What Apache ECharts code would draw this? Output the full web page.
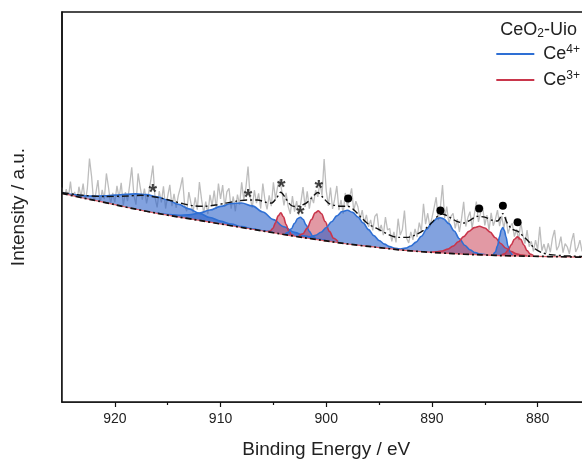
<!DOCTYPE html>
<html><head><meta charset="utf-8">
<script src="https://cdn.jsdelivr.net/npm/echarts@6/dist/echarts.min.js"></script>
<style>html,body{margin:0;padding:0;background:#fff}#c{width:582px;height:461px}</style>
</head><body><div id="c"></div>
<script>
// ---- data (binding energy in eV, intensity in arbitrary units) ----
const xTickLabels = [880, 890, 900, 910, 920];
const xMinorTicks = [885, 895, 905, 915];

// raw spectrum, 0.2 eV steps starting at 925.0 eV going down
const rawStart = 925.0, rawStep = 0.2;
const rawCounts = [
 55.0,51.8,54.6,52.2,56.5, 51.5,53.9,50.9,55.2,52.6, 56.0,51.2,54.8,62.4,57.8,
 51.0,53.5,56.9,50.6,54.4, 52.0,58.6,55.0,50.8,53.6, 51.2,55.4,52.3,56.2,50.4,
 53.8,51.5,55.6,60.2,53.0, 50.6,58.6,55.1,51.9,54.7, 50.9,53.6,56.8,60.6,52.4,
 49.9,54.1,51.2,55.3,49.6, 52.8,55.7,50.2,53.4,49.8, 52.9,55.0,57.6,50.5,48.9,
 53.8,51.0,48.6,52.5,49.3, 56.4,52.0,48.5,51.4,48.2, 53.1,50.3,54.2,49.5,56.0,
 52.1,55.6,50.0,53.9,54.8, 49.6,52.7,48.9,53.2,50.6, 56.3,51.9,55.0,60.4,52.6,
 49.8,54.3,51.0,53.5,49.6, 56.0,51.8,49.4,53.0,50.2, 56.3,52.0,55.2,57.0,54.0,
 50.4,53.6,50.1,48.2,52.8, 48.8,51.5,47.9,51.2,55.1, 50.0,54.0,49.6,52.7,51.0,
 54.3,52.6,56.2,53.0,62.3, 54.2,50.3,55.0,49.5,52.0, 55.4,49.2,51.8,48.3,53.6,
 50.2,52.4,54.8,49.0,51.5, 50.0,46.8,49.2,45.9,48.0, 44.9,46.7,44.0,47.6,48.3,
 43.8,45.4,42.8,47.4,44.1, 44.5,41.2,43.6,40.9,47.0, 42.8,44.2,49.1,42.0,40.8,
 43.6,41.6,44.4,42.3,46.0, 43.8,50.8,45.6,48.4,45.0, 47.2,49.8,52.5,46.6,50.0,
 55.6,47.2,50.1,45.8,47.6, 48.4,44.5,46.9,43.6,47.0, 51.3,45.0,47.3,48.8,44.6,
 47.9,51.4,46.2,48.5,50.1, 45.3,47.9,44.0,48.5,45.2, 46.8,49.2,45.1,47.7,44.6,
 47.5,43.2,45.0,45.8,42.4, 44.3,41.5,46.2,42.8,40.6, 44.1,39.8,41.2,38.6,41.5,
 39.0,44.9,38.8,40.5,38.2, 40.7,38.4,42.0,44.1,38.9, 40.0,42.4,38.3,40.6,39.8,
 38.0,41.2,43.3,38.5,39.6, 41.5,38.6
];

// Shirley-type background
const baselineE = [925,923,921,919,917,915,913,911,909,907,905,903,901,899,897,895,893,891,889,887,885,883,881,879,877,875];
const baselineI = [53.5,52.3,51.2,50.0,48.9,47.9,47.0,46.1,45.2,44.3,43.4,42.5,41.7,40.9,40.2,39.6,39.0,38.55,38.2,37.9,37.7,37.5,37.4,37.3,37.2,37.1];

// fitted envelope
const envelope = [
 [925.0,53.7],[923.0,53.0],[921.0,52.7],[919.0,52.8],[917.5,53.0],[916.5,52.7],[915.5,52.2],[914.5,51.5],
 [913.5,50.8],[912.5,50.3],[911.5,50.2],[910.5,50.5],[909.5,51.0],[908.5,51.5],[907.5,51.8],[906.5,51.8],
 [905.7,51.2],[905.2,51.0],[904.7,52.3],[904.3,53.8],[903.9,52.5],[903.4,50.6],[902.9,50.1],[902.4,50.4],
 [901.9,51.0],[901.4,52.3],[900.8,53.7],[900.3,52.4],[899.8,51.0],[899.2,50.4],[898.6,50.2],[898.0,50.2],
 [897.4,49.3],[896.8,47.6],[896.0,45.6],[895.0,44.2],[894.0,42.8],[893.2,42.2],[892.4,42.2],[891.6,42.8],
 [890.8,44.0],[890.0,46.0],[889.4,47.8],[889.0,48.2],[888.4,47.5],[887.7,46.4],[887.0,45.9],[886.4,46.6],
 [885.7,47.6],[885.0,47.4],[884.3,46.6],[883.8,46.4],[883.3,48.3],[882.9,46.0],[882.4,44.3],[881.9,43.8],
 [881.4,42.6],[880.9,41.3],[880.3,39.4],[879.6,38.3],[878.8,37.8],[877.5,37.5],[875.5,37.3]
];

// Ce4+ components (top of each fitted peak)
const ce4_917 = [[925,53.64],[924,53.2],[923,52.88],[922,52.79],[921,52.87],[920,53.05],[919,53.25],[918,53.36],[917,53.17],[916,52.64],[915,51.78],[914,50.71],[913,49.53],[912,48.36],[911,47.3],[910,46.38],[909,45.61],[908,44.96],[907,44.4],[906,43.89],[905,43.4]];
const ce4_908 = [[916,48.46],[915,48.08],[914,47.9],[913,47.99],[912,48.43],[911,49.22],[910,50.17],[909,50.91],[908,51.03],[907,50.29],[906,48.71],[905,46.76],[904,44.93],[903,43.5],[902,42.53],[901,41.86],[900,41.35]];
const ce4_902 = [[903.9,43.11],[903.6,43.5],[903.3,44.42],[903.0,45.8],[902.7,47.04],[902.45,47.38],[902.2,46.84],[901.9,45.36],[901.6,43.74],[901.3,42.58],[901.0,41.95]];
const ce4_898 = [[902,42.31],[901.5,42.4],[901,42.77],[900.5,43.52],[900,44.71],[899.5,46.21],[899,47.72],[898.5,48.84],[898,49.15],[897.5,48.62],[897,47.43],[896.5,45.88],[896,44.2],[895.5,42.67],[895,41.41],[894.5,40.48],[894,39.84],[893.5,39.41],[893,39.11]];
const ce4_889 = [[893.5,39.23],[893,39.23],[892.5,39.45],[892,40.0],[891.5,40.99],[891,42.49],[890.5,44.31],[890,46.02],[889.5,47.08],[889.2,47.23],[888.9,46.96],[888.4,45.73],[887.9,43.85],[887.4,41.87],[886.9,40.19],[886.4,39.0],[885.9,38.29],[885.4,37.91],[884.9,37.72]];
const ce4_883 = [[884.2,37.8],[884.0,38.46],[883.8,40.02],[883.6,42.44],[883.45,44.08],[883.3,44.73],[883.15,44.05],[883.0,42.38],[882.8,39.93],[882.6,38.34],[882.4,37.69]];

// Ce3+ components
const ce3_904 = [[905.55,43.71],[905.3,43.86],[905.05,44.52],[904.8,45.97],[904.55,47.72],[904.3,48.49],[904.05,47.49],[903.8,45.52],[903.55,43.85],[903.3,42.96],[903.05,42.58]];
const ce3_901 = [[902.6,42.61],[902.2,43.15],[901.8,44.58],[901.4,46.79],[901.05,48.51],[900.75,49.0],[900.45,48.27],[900.1,46.27],[899.7,43.74],[899.3,41.99],[898.9,41.13]];
const ce3_886 = [[890,38.48],[889.5,38.53],[889,38.73],[888.5,39.2],[888,39.97],[887.5,41.08],[887,42.41],[886.5,43.75],[886,44.72],[885.5,45.05],[885,44.62],[884.5,43.55],[884,42.11],[883.5,40.65],[883,39.42],[882.5,38.55],[882,37.98],[881.5,37.67],[881,37.5]];
const ce3_882 = [[883.4,37.69],[883.1,38.05],[882.8,38.9],[882.5,40.3],[882.2,41.73],[881.9,42.34],[881.6,41.7],[881.3,40.24],[881.0,38.81],[880.7,37.92],[880.4,37.53]];

// annotation marks
const starMarks = [[916.4,54.8],[907.4,53.7],[904.25,56.1],[902.45,49.2],[900.7,55.8]];
const dotMarks = [[897.93,52.2],[889.2,49.1],[885.54,49.6],[883.29,50.3],[881.9,46.1]];

// ---- chart ----
const FONT = 'Liberation Sans, Arial, sans-serif';
const BLUE = '#2e6fd4', BLUE_FILL = 'rgba(40,95,200,0.58)';
const RED = '#c9364b', RED_FILL = 'rgba(200,60,80,0.52)';

const rawData = rawCounts.map((v, i) => [+(rawStart - i * rawStep).toFixed(2), v]);
const baseData = baselineE.map((e, i) => [e, baselineI[i]]);

function comp(name, data, stroke, fill) {
  return {
    type: 'line', name, data, z: 2, smooth: 0.35, smoothMonotone: 'x',
    showSymbol: false, silent: true, emphasis: {disabled: true},
    itemStyle: {color: stroke},
    lineStyle: {color: stroke, width: 1.6},
    areaStyle: {color: fill, opacity: 1}
  };
}

const chart = echarts.init(document.getElementById('c'), null, {renderer: 'canvas'});
chart.setOption({
  backgroundColor: '#fff',
  animation: false,
  textStyle: {fontFamily: FONT},
  title: {
    text: '{a|CeO}{b|2}{a|-Uio}', right: 5, top: 20, padding: 0,
    textStyle: {fontWeight: 'normal', rich: {
      a: {fontFamily: FONT, fontSize: 18, fontWeight: 'normal', color: '#222', lineHeight: 20},
      b: {fontFamily: FONT, fontSize: 12, fontWeight: 'normal', color: '#222', lineHeight: 14, verticalAlign: 'bottom'}
    }}
  },
  legend: {
    data: [{name: 'Ce4+', itemStyle: {color: BLUE}}, {name: 'Ce3+', itemStyle: {color: RED}}],
    orient: 'vertical', right: 2, top: 44, padding: 0,
    icon: 'rect', itemWidth: 38, itemHeight: 2, itemGap: 7,
    selectedMode: false,
    formatter: n => '{a|Ce}{s|' + n.substring(2) + '}',
    textStyle: {rich: {
      a: {fontFamily: FONT, fontSize: 18, color: '#222', lineHeight: 20, padding: [0, 0, 0, 4]},
      s: {fontFamily: FONT, fontSize: 12, color: '#222', lineHeight: 13, verticalAlign: 'top'}
    }}
  },
  grid: {left: 62, top: 12, width: 528.5, height: 390, outerBoundsMode: 'none', containLabel: false,
         show: true, borderColor: '#111', borderWidth: 1.5, backgroundColor: 'transparent'},
  xAxis: [{
    type: 'value', min: 875, max: 925, inverse: true, position: 'bottom', z: 10,
    name: 'Binding Energy / eV', nameLocation: 'middle', nameGap: 38,
    nameTextStyle: {fontFamily: FONT, fontSize: 19, color: '#222'},
    axisLine: {show: true, lineStyle: {color: '#111', width: 1.5}},
    axisTick: {show: true, length: 5, customValues: xTickLabels, lineStyle: {color: '#111', width: 1.2}},
    axisLabel: {show: true, customValues: xTickLabels, fontFamily: FONT, fontSize: 14, color: '#222', margin: 10},
    splitLine: {show: false}
  }, {
    type: 'value', min: 875, max: 925, inverse: true, position: 'bottom', z: 10,
    axisLine: {show: false},
    axisTick: {show: true, length: 3, customValues: xMinorTicks, lineStyle: {color: '#111', width: 1.2}},
    axisLabel: {show: false},
    splitLine: {show: false}
  }],
  yAxis: {
    type: 'value', min: 0, max: 100, z: 10,
    name: 'Intensity / a.u.', nameLocation: 'middle', nameGap: 34,
    nameTextStyle: {fontFamily: FONT, fontSize: 19, color: '#222'},
    axisLine: {show: true, lineStyle: {color: '#111', width: 1.5}},
    axisTick: {show: false}, axisLabel: {show: false}, splitLine: {show: false}
  },
  series: [
    {type: 'line', name: 'raw', data: rawData, z: 1, showSymbol: false, silent: true,
     lineStyle: {color: '#bdbdbd', width: 1.3}, emphasis: {disabled: true}},
    comp('Ce4+', ce4_917, BLUE, BLUE_FILL),
    comp('Ce4+', ce4_908, BLUE, BLUE_FILL),
    comp('Ce3+', ce3_904, RED, RED_FILL),
    comp('Ce4+', ce4_902, BLUE, BLUE_FILL),
    comp('Ce3+', ce3_901, RED, RED_FILL),
    comp('Ce4+', ce4_898, BLUE, BLUE_FILL),
    comp('Ce4+', ce4_889, BLUE, BLUE_FILL),
    comp('Ce3+', ce3_886, RED, RED_FILL),
    comp('Ce4+', ce4_883, BLUE, BLUE_FILL),
    comp('Ce3+', ce3_882, RED, RED_FILL),
    {type: 'line', name: 'cover', data: baseData, z: 3, smooth: 0.4, showSymbol: false, silent: true,
     lineStyle: {width: 0}, areaStyle: {color: '#fff', opacity: 1}, emphasis: {disabled: true}},
    {type: 'line', name: 'bgRed', data: baseData, z: 4, smooth: 0.4, showSymbol: false, silent: true,
     lineStyle: {color: '#e0606a', width: 1.2}, emphasis: {disabled: true}},
    {type: 'line', name: 'background', data: baseData, z: 5, smooth: 0.4, showSymbol: false, silent: true,
     lineStyle: {color: '#111', width: 1.7, type: [6, 3, 2, 3]}, emphasis: {disabled: true}},
    {type: 'line', name: 'envelope', data: envelope, z: 5, smooth: 0.3, showSymbol: false, silent: true,
     lineStyle: {color: '#111', width: 1.4, type: [7, 3, 2, 3]}, emphasis: {disabled: true}},
    {type: 'scatter', name: 'dots', data: dotMarks, z: 6, symbol: 'circle', symbolSize: 8, silent: true,
     itemStyle: {color: '#000', opacity: 1}, emphasis: {disabled: true}},
    {type: 'scatter', name: 'stars', data: starMarks, z: 6, symbolSize: 1, silent: true,
     itemStyle: {color: 'rgba(0,0,0,0)'}, emphasis: {disabled: true},
     label: {show: true, position: 'inside', formatter: '*', fontFamily: FONT, fontSize: 22, fontWeight: 'bold', color: '#111', offset: [0, 5]}}
  ]
});
</script></body></html>
